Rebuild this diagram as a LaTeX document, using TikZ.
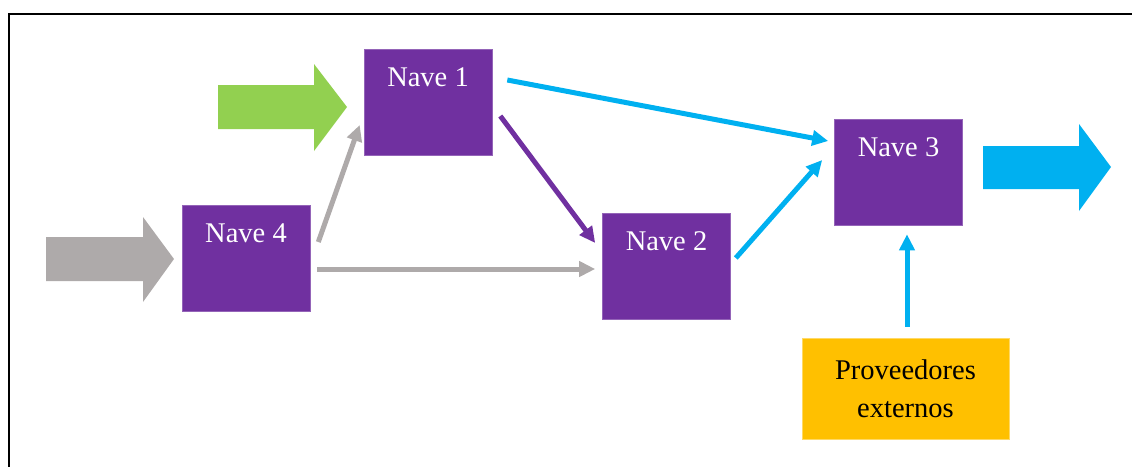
\documentclass[tikz,border=0pt]{standalone}
\usepackage{fontspec}
\setmainfont{Liberation Serif}
\usetikzlibrary{arrows.meta,calc}
\definecolor{navepurple}{HTML}{7030A0}
\definecolor{navegreen}{HTML}{92D050}
\definecolor{naveblue}{HTML}{00B0F0}
\definecolor{navegray}{HTML}{AEAAAA}
\definecolor{navegold}{HTML}{FFC000}
\tikzset{
  nave/.style={rectangle, fill=navepurple, draw=navepurple!75!white, line width=0.6pt,
    minimum width=128pt, minimum height=106pt, inner sep=0pt,
    text=white, font=\fontsize{28.5}{34}\selectfont,
    text height=20pt, text depth=50.6pt},
  supplier/.style={rectangle, fill=navegold, draw=navegold!60!white, line width=0.6pt,
    minimum width=207pt, minimum height=101pt, inner sep=0pt,
    align=center, font=\fontsize{28.5}{38}\selectfont},
  flow/.style={line width=5pt, -{Triangle[length=16pt,width=15pt]}},
}
\begin{document}
\begin{tikzpicture}[x=1pt,y=-1pt]
\useasboundingbox (0,0) rectangle (1132,466);
% outer frame (right and bottom edges fall outside the page)
\begin{scope}
  \clip (0,0) rectangle (1132,466);
  \draw[line width=2pt] (9,14) rectangle (1160,500);
\end{scope}

% production halls
\node[nave] (n1) at (428,102) {Nave 1};
\node[nave] (n4) at (246,258) {Nave 4};
\node[nave] (n2) at (666.5,266) {Nave 2};
\node[nave] (n3) at (898.5,172) {Nave 3};
\node[supplier] (prov) at (905.5,388.5) {Proveedores\\externos};

% incoming and outgoing block arrows
\fill[navegreen] (218,85) -- (314,85) -- (314,64) -- (347,107) -- (314,151) -- (314,129) -- (218,129) -- cycle;
\fill[navegray] (46,237) -- (143,237) -- (143,217) -- (174,259) -- (143,302) -- (143,281) -- (46,281) -- cycle;
\fill[naveblue] (983,146) -- (1079,146) -- (1079,124) -- (1111,167) -- (1079,211) -- (1079,189) -- (983,189) -- cycle;

% material flows between halls
\draw[flow, naveblue] ($(n1.east)+(15,-22)$) -- ($(n3.west)+(-6,-31)$);
\draw[flow, navepurple] ($(n1.east)+(8,14)$) -- ($(n2.west)+(-7,-23)$);
\draw[flow, navegray] ($(n4.east)+(8,-16)$) -- ($(n1.west)+(-4,23)$);
\draw[flow, navegray] ($(n4.east)+(7,11)$) -- ($(n2.west)+(-7,3)$);
\draw[flow, naveblue] ($(n2.east)+(5,-8)$) -- ($(n3.west)+(-12,-12)$);
\draw[flow, naveblue] ($(prov.north)+(1.5,-11)$) -- ($(n3.south)+(8.5,9)$);
\end{tikzpicture}
\end{document}
